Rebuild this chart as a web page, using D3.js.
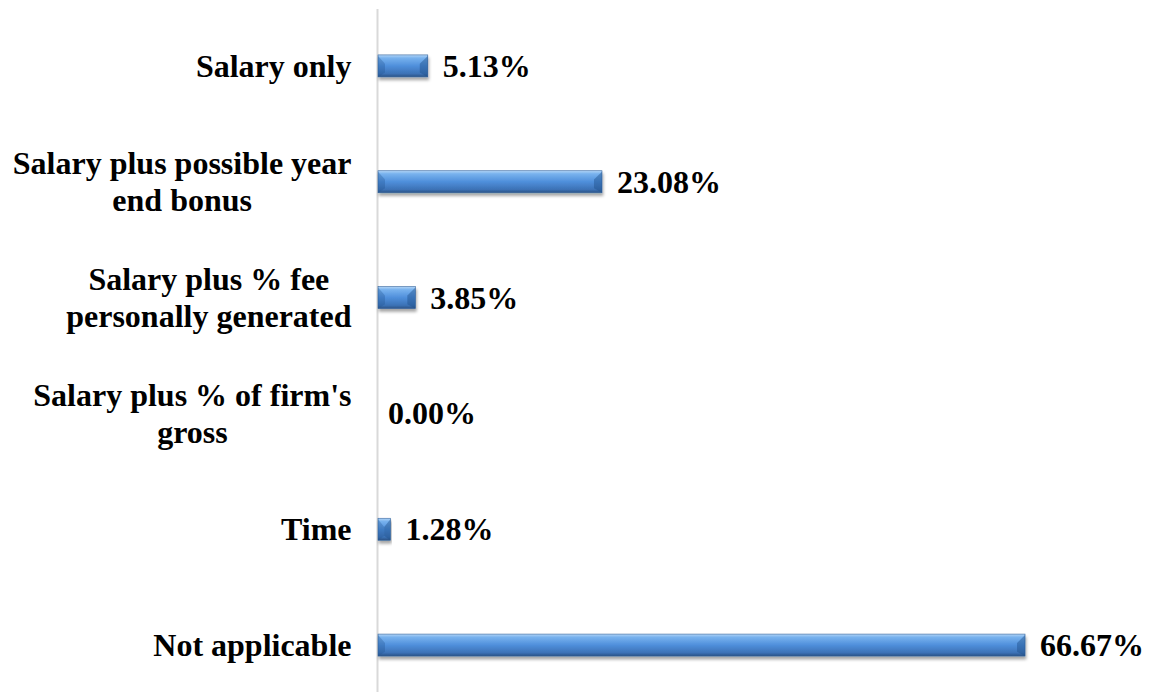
<!DOCTYPE html>
<html>
<head>
<meta charset="utf-8">
<script src="https://cdn.jsdelivr.net/npm/d3@7"></script>
<style>
  body { margin: 0; background: #fff; }
  svg { display: block; }
</style>
</head>
<body>
<div id="chart"></div>
<script>
var categories = ["Salary only", "Salary plus possible year end bonus", "Salary plus % fee personally generated",
    "Salary plus % of firm's gross", "Time", "Not applicable"];
var values = [5.13, 23.08, 3.85, 0.00, 1.28, 66.67];
var valueLabels = ["5.13%", "23.08%", "3.85%", "0.00%", "1.28%", "66.67%"];

var w = 1155;
var h = 698;
var fontFamily = "'Liberation Serif', 'Times New Roman', serif";

var svg = d3.select("#chart").append("svg").attr("width", w).attr("height", h);

var defs = svg.append("defs");
var grad = defs.append("linearGradient").attr("id", "barGrad")
    .attr("x1", 0).attr("y1", 0).attr("x2", 0).attr("y2", 1);
grad.append("stop").attr("offset", "0%").attr("stop-color", "#b4d6f7");
grad.append("stop").attr("offset", "14%").attr("stop-color", "#78b2ee");
grad.append("stop").attr("offset", "50%").attr("stop-color", "#4f8fdb");
grad.append("stop").attr("offset", "85%").attr("stop-color", "#3c72b6");
grad.append("stop").attr("offset", "100%").attr("stop-color", "#2a5285");

var shadow = defs.append("filter").attr("id", "shadow")
    .attr("x", "-10%").attr("y", "-30%").attr("width", "120%").attr("height", "180%");
shadow.append("feDropShadow").attr("dx", 1).attr("dy", 3).attr("stdDeviation", 1.6)
    .attr("flood-color", "#000").attr("flood-opacity", 0.35);

// scales
var xScale = d3.scaleLinear().domain([0, 100]).range([378, 1348.5]);
var yScale = d3.scaleBand().domain(categories).range([8, 703]).paddingInner(0.81).paddingOuter(0.405);

// category axis
var yAxis = d3.axisLeft(yScale).tickSize(0).tickPadding(26);
var axisG = svg.append("g").attr("transform", "translate(377.5,0)").call(yAxis);
axisG.select(".domain").remove();
svg.append("line").attr("x1", 377.5).attr("x2", 377.5).attr("y1", 9).attr("y2", 692)
    .attr("stroke", "#d9d9d9").attr("stroke-width", 2);

axisG.selectAll(".tick text")
    .attr("font-family", fontFamily).attr("font-size", "32px").attr("font-weight", "bold")
    .attr("fill", "#000")
    .each(function(d) {
        var text = d3.select(this);
        var words = d.split(" ");
        var maxWidth = 350;
        var lines = [];
        var line = [];
        text.text(null);
        var probe = text.append("tspan");
        words.forEach(function(word) {
            line.push(word);
            probe.text(line.join(" "));
            if (probe.node().getComputedTextLength() > maxWidth && line.length > 1) {
                line.pop();
                lines.push(line.join(" "));
                line = [word];
            }
        });
        lines.push(line.join(" "));
        var widest = 0;
        lines.forEach(function(l) {
            probe.text(l);
            widest = Math.max(widest, probe.node().getComputedTextLength());
        });
        probe.remove();
        var lineHeight = 37;
        var cx = -26 - widest / 2;
        text.attr("text-anchor", "middle").attr("x", cx).attr("dy", null);
        lines.forEach(function(l, i) {
            text.append("tspan")
                .attr("x", cx)
                .attr("y", 0)
                .attr("dy", (11 - (lines.length - 1) * lineHeight / 2 + i * lineHeight) + "px")
                .text(l);
        });
    });

// bars
var barH = yScale.bandwidth();
var bars = svg.selectAll("g.bar")
    .data(values)
    .enter()
    .append("g")
    .attr("class", "bar")
    .attr("transform", function(d, i) {
        return "translate(" + xScale(0) + "," + yScale(categories[i]) + ")";
    });

var drawn = bars.filter(function(d) { return d > 0; });

drawn.append("rect")
    .attr("width", function(d) { return xScale(d) - xScale(0); })
    .attr("height", barH)
    .attr("fill", "url(#barGrad)")
    .attr("stroke", "#35649c")
    .attr("stroke-width", 0.6)
    .attr("filter", "url(#shadow)");

// bevel ends
drawn.append("path")
    .attr("d", function(d) {
        var bw = xScale(d) - xScale(0);
        var b = Math.min(7, bw / 2);
        return "M0,1 L" + b + "," + (barH * 0.4) + " L" + b + "," + (barH * 0.8) + " L0," + barH + " Z";
    })
    .attr("fill", "#1f4f8a").attr("opacity", 0.3);

drawn.append("path")
    .attr("d", function(d) {
        var bw = xScale(d) - xScale(0);
        var b = Math.min(8, bw / 2);
        return "M" + bw + ",1 L" + (bw - b) + "," + (barH * 0.4) + " L" + (bw - b) + "," + (barH * 0.8) + " L" + bw + "," + barH + " Z";
    })
    .attr("fill", "#1f4f8a").attr("opacity", 0.45);

// value labels
svg.selectAll("text.value")
    .data(values)
    .enter()
    .append("text")
    .attr("class", "value")
    .attr("x", function(d) { return xScale(d) + (d > 0 ? 15 : 10); })
    .attr("y", function(d, i) { return yScale(categories[i]) + barH / 2; })
    .attr("dy", "11px")
    .attr("font-family", fontFamily)
    .attr("font-size", "32px")
    .attr("font-weight", "bold")
    .attr("fill", "#000")
    .text(function(d, i) { return valueLabels[i]; });
</script>
</body>
</html>
